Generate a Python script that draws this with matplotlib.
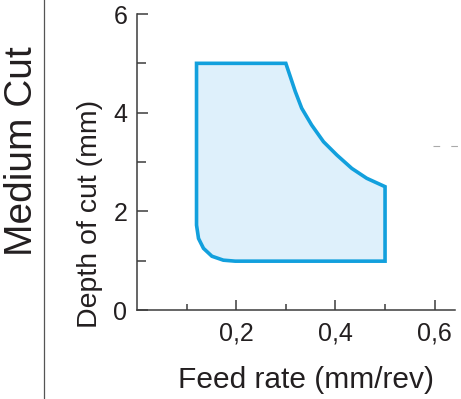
import matplotlib
matplotlib.use("Agg")
import matplotlib.pyplot as plt
from matplotlib.lines import Line2D
from matplotlib.patches import Polygon

plt.rcParams['font.family'] = ['Liberation Sans', 'DejaVu Sans']

# outline of the working range (feed rate, depth of cut)
feed = [0.12, 0.30, 0.308, 0.319, 0.332, 0.352, 0.376, 0.403, 0.433, 0.463, 0.50,
        0.50, 0.198, 0.174, 0.151, 0.134, 0.124, 0.12]
depth = [5.0, 5.0, 4.76, 4.43, 4.09, 3.75, 3.41, 3.14, 2.87, 2.67, 2.5,
         0.99, 0.99, 1.01, 1.09, 1.25, 1.45, 1.72]

x_major = [0.2, 0.4, 0.6]
x_minor = [0.1, 0.3, 0.5]
x_labels = ['0,2', '0,4', '0,6']
y_major = [0, 2, 4, 6]
y_minor = [1, 3, 5]

W, H = 461, 399
fig = plt.figure(figsize=(W / 100, H / 100), dpi=100)
ax = fig.add_axes([137 / W, (H - 310) / H, 318 / W, 296 / H])

txt = '#231f20'
ax_col = '#3c3c3c'

area = Polygon(list(zip(feed, depth)), closed=True, facecolor='#def0fb',
               edgecolor='#12a0dd', lw=2.6, joinstyle='miter', zorder=2)
ax.add_patch(area)

ax.set_xlim(0, 0.641)
ax.set_ylim(0, 6)
for s in ['top', 'right']:
    ax.spines[s].set_visible(False)
for s in ['left', 'bottom']:
    ax.spines[s].set_color(ax_col)
    ax.spines[s].set_linewidth(1.1)

ax.set_xticks(x_major)
ax.set_xticklabels(x_labels)
ax.set_xticks(x_minor, minor=True)
ax.set_yticks(y_major)
ax.set_yticks(y_minor, minor=True)
ax.tick_params(axis='both', which='both', direction='in', color=ax_col, width=1.1,
               labelcolor=txt, labelsize=18)
ax.tick_params(axis='x', which='major', length=7.5, pad=8)
ax.tick_params(axis='x', which='minor', length=4)
ax.tick_params(axis='y', which='major', length=8, pad=7)
ax.tick_params(axis='y', which='minor', length=6.5)

ax.set_xlabel('Feed rate (mm/rev)', fontsize=21.5, color=txt)
ax.xaxis.set_label_coords((306 - 137) / 318, (310 - 380) / 296)
ax.xaxis.label.set_va('center')
ax.set_ylabel('Depth of cut (mm)', fontsize=20.5, color=txt, va='center')
ax.yaxis.set_label_coords((90 - 137) / 318, (310 - 214) / 296)

# section title and divider on the left
fig.text(22 / W, 1 - 151 / H, 'Medium Cut', rotation=90, fontsize=28,
         color=txt, ha='center', va='center')
fig.add_artist(Line2D([44 / W, 44 / W], [0, 1], color='#555555', lw=0.9))

# small dashes at the right edge
fig.add_artist(Line2D([433 / W, 461 / W], [1 - 146 / H, 1 - 146 / H], color='#aaaaaa',
                      lw=0.8, dashes=(6, 10)))

fig.savefig('out.png', dpi=100)
